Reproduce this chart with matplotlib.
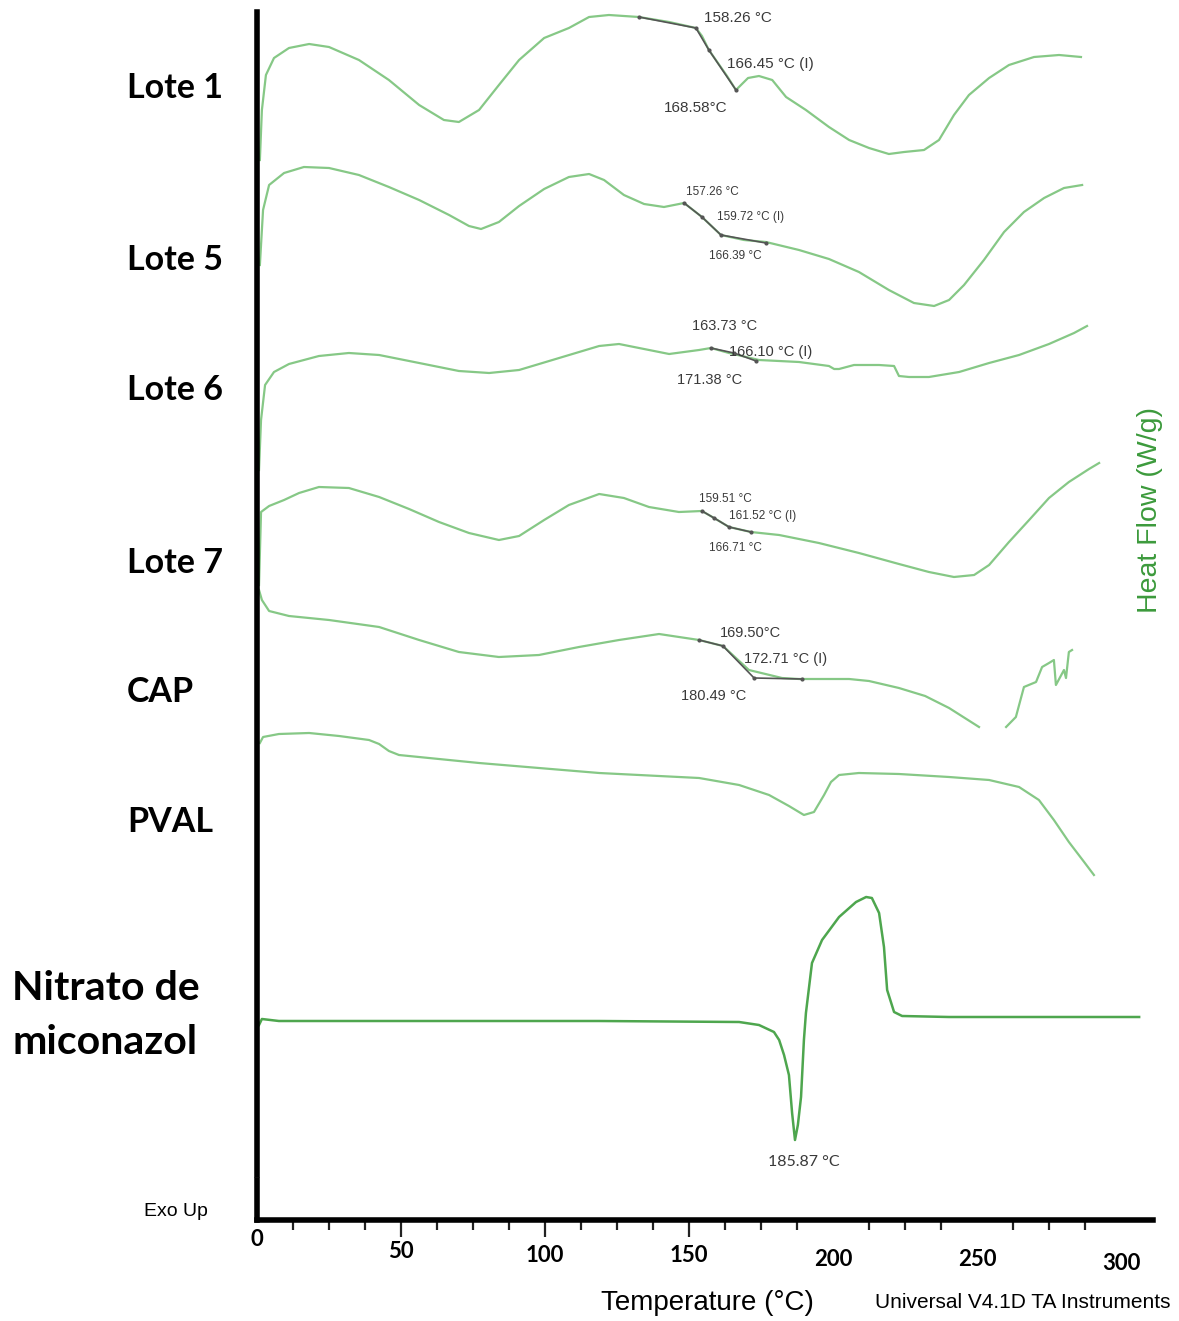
import numpy as np
import matplotlib.pyplot as plt

# temperature (°C) and heat flow (arbitrary offset units)
lote1_t = [1.0, 1.7, 3.1, 5.9, 11.1, 18.1, 25.0, 35.4, 45.8, 56.3, 64.9, 70.1, 77.1, 84.0,
           91.0, 99.7, 108.3, 115.3, 122.2, 132.6, 143.1, 152.4, 154.5, 156.9, 163.2, 166.3,
           170.5, 174.3, 178.9, 183.7, 190.6, 198.6, 205.6, 212.5, 219.4, 224.7, 231.6,
           236.8, 242.0, 247.2, 254.2, 261.1, 269.8, 278.5, 286.1]
lote1_h = [106.0, 111.0, 114.5, 116.2, 117.2, 117.6, 117.3, 116.0, 114.0, 111.5, 110.0,
           109.8, 111.0, 113.5, 116.0, 118.2, 119.2, 120.3, 120.5, 120.3, 119.8, 119.2,
           118.4, 117.0, 114.4, 113.0, 114.2, 114.4, 114.0, 112.3, 111.0, 109.3, 108.0,
           107.2, 106.6, 106.8, 107.0, 108.0, 110.5, 112.5, 114.2, 115.5, 116.3, 116.5, 116.3]

lote5_t = [1.0, 2.1, 4.2, 9.4, 16.3, 25.0, 35.4, 45.8, 56.3, 66.7, 73.6, 77.8, 84.0, 91.0,
           99.7, 108.3, 115.3, 120.5, 127.4, 134.4, 141.3, 148.3, 154.5, 161.1, 169.1, 176.7,
           188.2, 198.6, 209.0, 219.4, 228.1, 235.1, 240.3, 245.5, 252.4, 259.4, 266.3, 273.3,
           280.2, 286.5]
lote5_h = [95.5, 101.0, 103.5, 104.7, 105.3, 105.2, 104.5, 103.3, 102.0, 100.5, 99.4, 99.1,
           99.8, 101.4, 103.1, 104.3, 104.6, 104.0, 102.5, 101.6, 101.3, 101.7, 100.3, 98.5,
           98.0, 97.8, 97.0, 96.1, 94.8, 93.0, 91.7, 91.4, 92.0, 93.5, 96.0, 98.8, 100.8,
           102.2, 103.2, 103.5]

lote6_t = [0.7, 1.4, 2.8, 5.9, 11.1, 21.5, 31.9, 42.4, 56.3, 70.1, 80.6, 91.0, 104.9, 118.8,
           125.7, 134.4, 143.1, 153.5, 157.6, 163.9, 174.3, 188.2, 198.6, 200.4, 202.1,
           207.3, 216.0, 221.2, 222.9, 226.4, 233.3, 243.8, 254.2, 264.6, 275.0, 283.7, 288.2]
lote6_h = [75.0, 80.0, 83.5, 84.8, 85.6, 86.4, 86.7, 86.5, 85.7, 84.9, 84.7, 85.0, 86.2,
           87.4, 87.6, 87.1, 86.6, 87.0, 87.2, 86.7, 86.0, 85.8, 85.4, 85.1, 85.1, 85.5, 85.5,
           85.4, 84.4, 84.3, 84.3, 84.8, 85.7, 86.5, 87.6, 88.7, 89.4]

lote7_t = [0.7, 1.4, 4.2, 9.4, 14.6, 21.5, 31.9, 42.4, 52.8, 63.2, 73.6, 84.0, 91.0, 99.7,
           108.3, 118.8, 127.4, 136.1, 146.5, 154.5, 158.7, 163.9, 171.5, 181.3, 195.1, 209.0,
           222.9, 233.3, 242.0, 249.0, 254.2, 261.1, 268.1, 275.0, 281.9, 288.9, 292.4]
lote7_h = [63.5, 70.8, 71.4, 72.0, 72.7, 73.3, 73.2, 72.3, 71.1, 69.8, 68.7, 68.0, 68.4,
           70.0, 71.5, 72.6, 72.2, 71.3, 70.8, 70.9, 70.2, 69.3, 68.8, 68.5, 67.7, 66.7, 65.6,
           64.8, 64.3, 64.5, 65.5, 67.8, 70.0, 72.2, 73.8, 75.1, 75.7]

cap_t = [0.7, 1.7, 4.2, 11.1, 25.0, 42.4, 56.3, 70.1, 84.0, 97.9, 111.8, 125.7, 139.6,
         153.5, 161.8, 170.8, 182.3, 188.2, 198.6, 205.6, 212.5, 222.9, 232.0, 240.3, 250.7,
         np.nan, 260.1, 263.5, 266.3, 270.5, 272.6, 275.0, 276.7, 277.4, 280.2, 280.9, 281.9,
         283.0]
cap_h = [63.0, 62.0, 60.9, 60.4, 60.0, 59.3, 58.0, 56.8, 56.3, 56.5, 57.3, 58.0, 58.6,
         58.0, 57.4, 55.0, 54.2, 54.1, 54.1, 54.1, 53.9, 53.2, 52.4, 51.2, 49.3,
         np.nan, 49.3, 50.3, 53.3, 53.8, 55.3, 55.7, 56.0, 53.5, 55.0, 54.2, 56.8, 57.0]

pval_t = [1.0, 2.1, 7.6, 18.1, 28.5, 38.9, 42.4, 45.8, 49.3, 59.7, 77.1, 97.9, 118.8,
          139.6, 153.5, 167.4, 177.8, 184.7, 189.9, 193.4, 196.9, 199.3, 202.1, 209.0,
          222.9, 240.3, 254.2, 264.6, 271.5, 276.7, 281.9, 287.2, 290.6]
pval_h = [47.7, 48.3, 48.6, 48.7, 48.4, 48.0, 47.6, 46.9, 46.5, 46.2, 45.7, 45.2, 44.7,
          44.4, 44.2, 43.5, 42.5, 41.4, 40.5, 40.8, 42.5, 43.8, 44.5, 44.7, 44.6, 44.3,
          44.0, 43.3, 42.0, 40.0, 37.8, 35.8, 34.5]

mn_t = [0.7, 1.7, 7.6, 49.3, 118.8, 167.4, 174.3, 179.5, 181.3, 183.0, 184.7, 185.8, 186.8,
        187.8, 188.9, 189.9, 190.6, 192.7, 196.2, 202.1, 208.0, 211.5, 213.5, 216.0, 217.7,
        218.8, 221.2, 224.0, 240.3, 275.0, 306.3]
mn_h = [19.5, 20.1, 19.9, 19.9, 19.9, 19.8, 19.5, 18.8, 18.0, 16.5, 14.5, 10.7, 8.0, 9.5,
        12.3, 18.0, 20.7, 25.7, 28.0, 30.3, 31.8, 32.3, 32.2, 30.7, 27.3, 23.0, 20.8, 20.4,
        20.3, 20.3, 20.3]

# onset / inflection / end construction lines
tan1_t = [132.6, 152.4, 156.9, 166.3]
tan1_h = [120.3, 119.2, 117.0, 113.0]
tan5_t = [148.3, 154.5, 161.1, 176.7]
tan5_h = [101.7, 100.3, 98.5, 97.7]
tan6_t = [157.6, 165.6, 173.3]
tan6_h = [87.2, 86.7, 85.9]
tan7_t = [154.5, 158.7, 163.9, 171.5]
tan7_h = [70.9, 70.2, 69.3, 68.8]
tancap_t = [153.5, 161.8, 172.6, 189.2]
tancap_h = [58.0, 57.4, 54.2, 54.1]

# annotation texts: (label, temperature, heat flow)
notes1 = [("158.26 °C", 155.2, 120.2), ("166.45 °C (I)", 163.2, 115.6), ("168.58°C", 141.3, 111.2)]
notes5 = [("157.26 °C", 149.0, 102.8), ("159.72 °C (I)", 159.7, 100.3), ("166.39 °C", 156.9, 96.4)]
notes6 = [("163.73 °C", 151.0, 89.4), ("166.10 °C (I)", 163.9, 86.8), ("171.38 °C", 145.8, 84.0)]
notes7 = [("159.51 °C", 153.5, 72.1), ("161.52 °C (I)", 163.9, 70.4), ("166.71 °C", 156.9, 67.2)]
notescap = [("169.50°C", 160.8, 58.7), ("172.71 °C (I)", 169.1, 56.1), ("180.49 °C", 147.2, 52.4)]

tick_values = [0, 50, 100, 150, 200, 250, 300]
minor_ticks = [12.5, 25, 37.5, 62.5, 75, 87.5, 112.5, 125, 137.5, 162.5, 175, 187.5,
               212.5, 225, 237.5, 262.5, 275, 287.5]
sample_names = ["Lote 1", "Lote 5", "Lote 6", "Lote 7", "CAP", "PVAL"]


def main():
    W, H = 1179, 1321
    fig = plt.figure(figsize=(W / 100, H / 100), dpi=100)
    ax = fig.add_axes([257 / W, (H - 1220) / H, (1153 - 257) / W, (1220 - 12) / H])
    ax.set_xlim(0, (1153 - 257) / 2.88)
    ax.set_ylim(0, 120.8)

    light = "#86c886"
    for t, h in [(lote1_t, lote1_h), (lote5_t, lote5_h), (lote6_t, lote6_h),
                 (lote7_t, lote7_h), (cap_t, cap_h), (pval_t, pval_h)]:
        ax.plot(t, h, color=light, lw=1.6, clip_on=False)
    ax.plot(mn_t, mn_h, color="#4ea64e", lw=1.8, clip_on=False)

    for t, h in [(tan1_t, tan1_h), (tan5_t, tan5_h), (tan6_t, tan6_h),
                 (tan7_t, tan7_h), (tancap_t, tancap_h)]:
        ax.plot(t, h, color="#555555", lw=1.2, marker="o", ms=2, zorder=3)

    for notes, fs in [(notes1, 11), (notes5, 8.5), (notes6, 10.5), (notes7, 8.5), (notescap, 10.5)]:
        for label, t, h in notes:
            ax.text(t, h, label, fontsize=fs, color="#3a3a3a", va="center", ha="left",
                    family=["Liberation Sans", "DejaVu Sans"])
    ax.text(189.9, 5.8, "185.87 °C", fontsize=11.5, color="#3a3a3a", ha="center", va="center",
            family=["Lato", "DejaVu Sans"])

    # axes styling
    for s in ["top", "right"]:
        ax.spines[s].set_visible(False)
    ax.spines["left"].set_linewidth(4)
    ax.spines["left"].set_bounds(4.5, 120.8)
    ax.spines["bottom"].set_linewidth(4)
    ax.axvline(0, 0, 4.0 / 120.8, color="black", lw=4, clip_on=False)
    ax.set_yticks([])
    ax.set_xticks(minor_ticks)
    ax.set_xticklabels([])
    ax.tick_params(axis="x", direction="out", length=7, width=1.6, color="#222222")
    ax.set_xticks([50, 100, 150], minor=True)
    ax.tick_params(axis="x", which="minor", direction="out", length=12, width=1.6,
                   color="#222222")
    label_drops = [20, 32, 36, 36, 40, 40, 43]
    for v, d in zip(tick_values, label_drops):
        ax.annotate(str(v), (v, 0), xytext=(0, -d), textcoords="offset pixels",
                    ha="center", va="center", fontsize=16, fontweight="bold",
                    family=["Lato", "DejaVu Sans"], annotation_clip=False)

    # sample names on the left
    name_y = [88, 260, 390, 563, 692, 822]
    for name, y in zip(sample_names, name_y):
        fig.text(127 / W, 1 - y / H, name, fontsize=24.5, fontweight="bold",
                 va="center", ha="left", family=["Lato", "DejaVu Sans"])
    fig.text(12 / W, 1 - 988 / H, "Nitrato de", fontsize=29.5, fontweight="bold",
             va="center", ha="left", family=["Lato", "DejaVu Sans"])
    fig.text(12 / W, 1 - 1042 / H, "miconazol", fontsize=29.5, fontweight="bold",
             va="center", ha="left", family=["Lato", "DejaVu Sans"])

    fig.text(176 / W, 1 - 1212 / H, "Exo Up", fontsize=14, ha="center", va="center",
             family=["Liberation Sans", "DejaVu Sans"])
    fig.text(707 / W, 1 - 1303 / H, "Temperature (°C)", fontsize=20, ha="center",
             va="center", family=["Liberation Sans", "DejaVu Sans"])
    fig.text(1023 / W, 1 - 1302 / H, "Universal V4.1D TA Instruments", fontsize=15,
             ha="center", va="center", family=["Liberation Sans", "DejaVu Sans"])
    fig.text(1150 / W, 1 - 510 / H, "Heat Flow (W/g)", fontsize=20.5, color="#3c9a3c",
             rotation=90, ha="center", va="center",
             family=["Liberation Sans", "DejaVu Sans"])

    fig.savefig("out.png", dpi=100)


if __name__ == "__main__":
    main()
